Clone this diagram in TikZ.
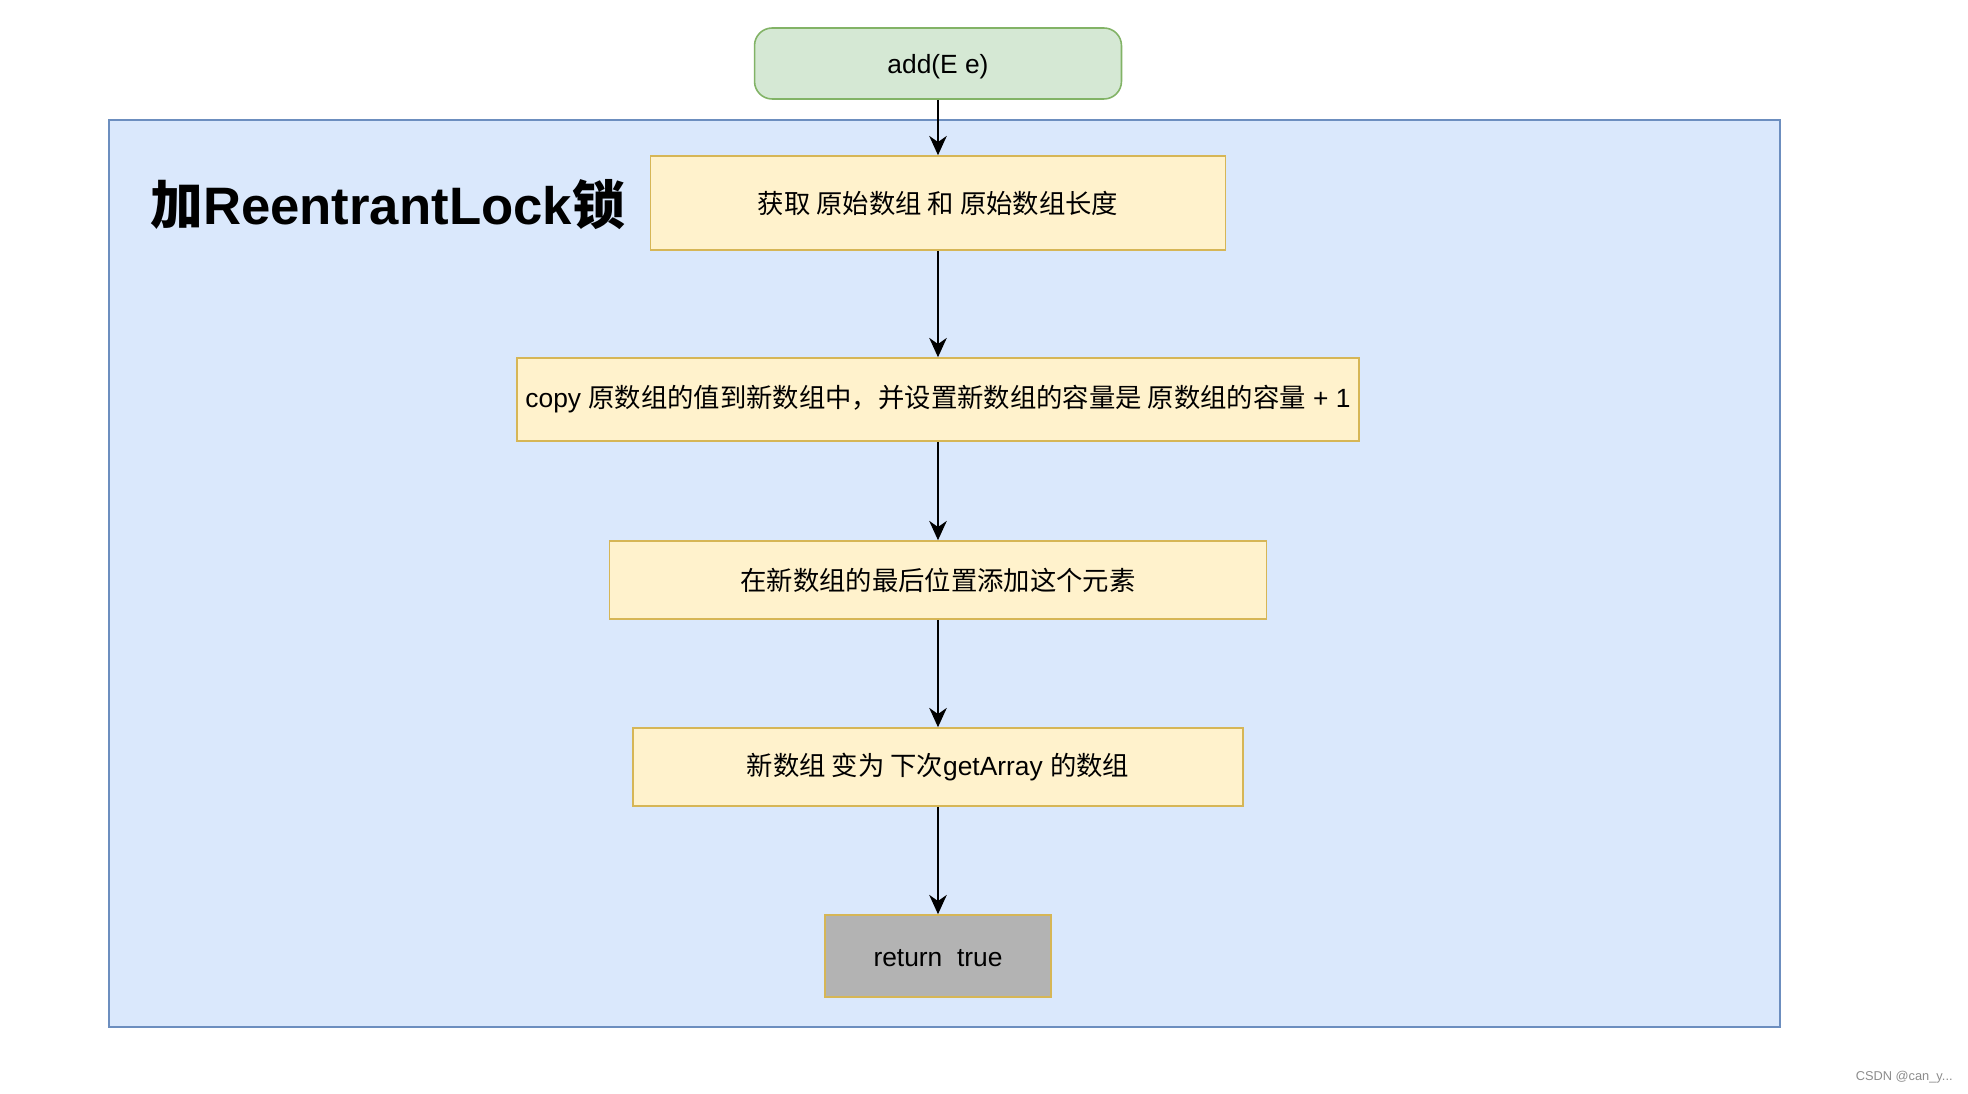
\documentclass[tikz,border=0pt]{standalone}
\usepackage{fontspec}
\setmainfont{Liberation Sans}
\newfontfamily\cjk{Noto Sans CJK SC}
\usetikzlibrary{arrows.meta}

\definecolor{greenfill}{HTML}{D5E8D4}
\definecolor{greenline}{HTML}{82B366}
\definecolor{bluefill}{HTML}{DAE8FC}
\definecolor{blueline}{HTML}{6C8EBF}
\definecolor{yellowfill}{HTML}{FFF2CC}
\definecolor{yellowline}{HTML}{D6B656}
\definecolor{grayfill}{HTML}{B3B3B3}

\tikzset{
    stepbox/.style={draw=yellowline, fill=yellowfill, line width=0.9pt, inner sep=0pt,
        font=\fontsize{15}{18}\selectfont},
    flow/.style={-{Stealth[length=11pt, width=10pt, inset=3.5pt]}, line width=0.9pt}
}

\begin{document}
\begin{tikzpicture}[x=0.02cm, y=-0.02cm]
    \useasboundingbox (0,0) rectangle (1968,1094);

    % Lock area
    \draw[fill=bluefill, draw=blueline, line width=0.9pt] (109,120) rectangle (1780,1027);
    \node[anchor=west, inner sep=0pt, font=\fontsize{30}{36}\selectfont\bfseries] (lock) at (150,205)
        {{\cjk\bfseries 加}ReentrantLock{\cjk\bfseries 锁}};

    % Entry
    \node[draw=greenline, fill=greenfill, line width=0.9pt, rounded corners=10pt,
        minimum width=7.34cm, minimum height=1.42cm, inner sep=0pt, text height=14pt, text depth=3pt,
        font=\fontsize{15}{18}\selectfont] (add) at (938,63.5) {add(E e)};

    % Steps
    \node[stepbox, minimum width=11.5cm, minimum height=1.88cm] (get) at (938,203)
        {\cjk 获取 原始数组 和 原始数组长度};
    \node[stepbox, minimum width=16.84cm, minimum height=1.66cm] (copy) at (938,399.5)
        {copy {\cjk 原数组的值到新数组中，并设置新数组的容量是 原数组的容量} + 1};
    \node[stepbox, minimum width=13.14cm, minimum height=1.56cm] (append) at (938,580)
        {\cjk 在新数组的最后位置添加这个元素};
    \node[stepbox, minimum width=12.2cm, minimum height=1.56cm] (swap) at (938,767)
        {{\cjk 新数组 变为 下次}getArray {\cjk 的数组}};
    \node[stepbox, fill=grayfill, minimum width=4.52cm, minimum height=1.64cm,
        text height=13pt, text depth=1pt] (ret) at (938,956)
        {return\ \ true};

    % Arrows
    \draw[flow] (add) -- (get);
    \draw[flow] (get) -- (copy);
    \draw[flow] (copy) -- (append);
    \draw[flow] (append) -- (swap);
    \draw[flow] (swap) -- (ret);

    % Watermark
    \node[anchor=east, inner sep=0pt, text=black!45, font=\fontsize{7.3}{9}\selectfont] (mark) at (1953,1077)
        {CSDN @can\_y...};
\end{tikzpicture}
\end{document}
